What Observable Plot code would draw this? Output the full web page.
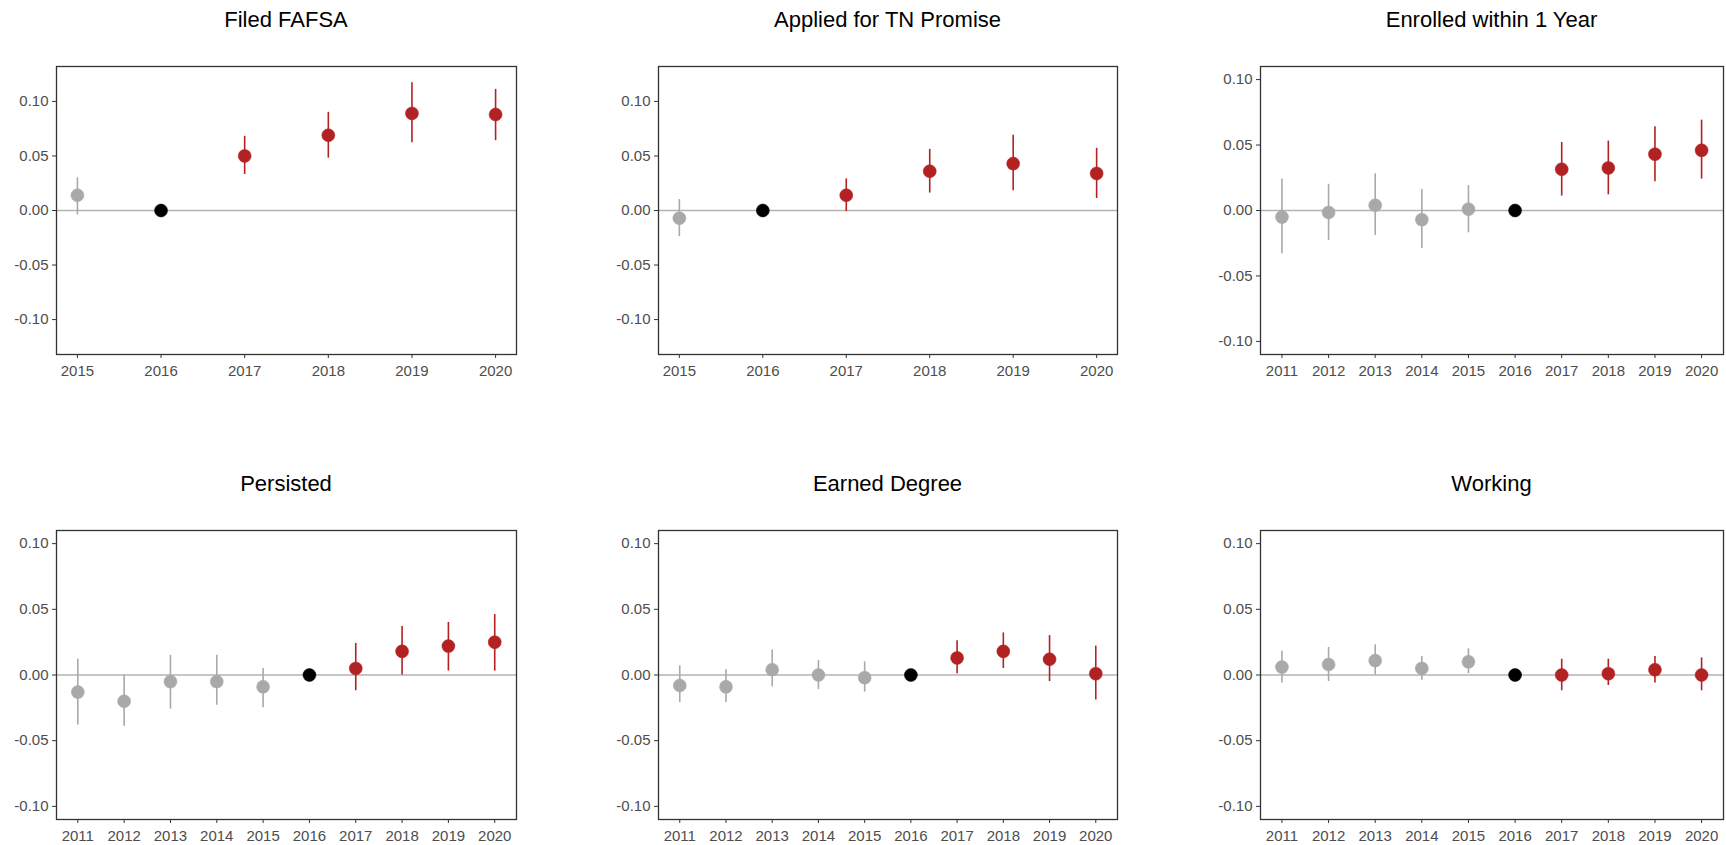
<!DOCTYPE html>
<html>
<head>
<meta charset="utf-8">
<script src="https://cdn.jsdelivr.net/npm/d3@7"></script>
<script src="https://cdn.jsdelivr.net/npm/@observablehq/plot@0.6"></script>
<style>
  html, body { margin: 0; padding: 0; background: #fff; }
  #root { position: relative; width: 1726px; height: 845px; background: #fff; overflow: hidden; }
  .title { position: absolute; text-align: center; font-family: "Liberation Sans", Arial, sans-serif; font-size: 22px; line-height: 22px; color: #000; white-space: nowrap; }
  .plot { position: absolute; }
</style>
</head>
<body>
<div id="root"></div>
<script>
// ---------------- data ----------------
const titles = ["Filed FAFSA", "Applied for TN Promise", "Enrolled within 1 Year", "Persisted", "Earned Degree", "Working"];
const baseYear = 2016;
const yearsShort = [2015, 2016, 2017, 2018, 2019, 2020];
const yearsLong = [2011, 2012, 2013, 2014, 2015, 2016, 2017, 2018, 2019, 2020];
const yTicks = [-0.10, -0.05, 0, 0.05, 0.10];

const fafsaEst = [0.014, 0, 0.050, 0.069, 0.089, 0.088];
const fafsaLo  = [-0.004, null, 0.033, 0.048, 0.062, 0.064];
const fafsaHi  = [0.030, null, 0.068, 0.090, 0.117, 0.111];

const promiseEst = [-0.007, 0, 0.014, 0.036, 0.043, 0.034];
const promiseLo  = [-0.024, null, -0.001, 0.016, 0.018, 0.011];
const promiseHi  = [0.010, null, 0.029, 0.056, 0.069, 0.057];

const enrolledEst = [-0.005, -0.0015, 0.004, -0.007, 0.001, 0, 0.0315, 0.0325, 0.043, 0.046];
const enrolledLo  = [-0.033, -0.023, -0.019, -0.029, -0.017, null, 0.011, 0.012, 0.022, 0.024];
const enrolledHi  = [0.024, 0.020, 0.028, 0.016, 0.019, null, 0.052, 0.053, 0.064, 0.069];

const persistedEst = [-0.013, -0.020, -0.005, -0.005, -0.009, 0, 0.005, 0.018, 0.022, 0.025];
const persistedLo  = [-0.038, -0.039, -0.026, -0.023, -0.025, null, -0.012, 0.000, 0.003, 0.003];
const persistedHi  = [0.012, 0.000, 0.015, 0.015, 0.005, null, 0.024, 0.037, 0.040, 0.046];

const degreeEst = [-0.008, -0.009, 0.004, 0.000, -0.002, 0, 0.013, 0.018, 0.012, 0.001];
const degreeLo  = [-0.021, -0.021, -0.009, -0.011, -0.013, null, 0.001, 0.005, -0.005, -0.019];
const degreeHi  = [0.007, 0.004, 0.019, 0.011, 0.010, null, 0.026, 0.032, 0.030, 0.022];

const workingEst = [0.006, 0.008, 0.011, 0.005, 0.010, 0, 0.000, 0.001, 0.004, 0.000];
const workingLo  = [-0.006, -0.005, 0.000, -0.004, 0.001, null, -0.012, -0.008, -0.006, -0.012];
const workingHi  = [0.018, 0.021, 0.023, 0.014, 0.020, null, 0.012, 0.012, 0.014, 0.013];

// ---------------- style / layout ----------------
const FONT = '"Liberation Sans", Arial, sans-serif';
const GRAY = "#a9a9a9", RED = "#b22222", BLACK = "#000000";
const mL = 60, mR = 8, mT = 4, mB = 30;

const panels = [
  {title: titles[0], years: yearsShort, est: fafsaEst, lo: fafsaLo, hi: fafsaHi, xDomain: [2014.75, 2020.25], yDomain: [-0.132, 0.132], left: 56, top: 66, w: 460, h: 288, titleTop: 9},
  {title: titles[1], years: yearsShort, est: promiseEst, lo: promiseLo, hi: promiseHi, xDomain: [2014.75, 2020.25], yDomain: [-0.132, 0.132], left: 658, top: 66, w: 459, h: 288, titleTop: 9},
  {title: titles[2], years: yearsLong, est: enrolledEst, lo: enrolledLo, hi: enrolledHi, xDomain: [2010.54, 2020.47], yDomain: [-0.11, 0.11], left: 1260, top: 66, w: 463, h: 288, titleTop: 9},
  {title: titles[3], years: yearsLong, est: persistedEst, lo: persistedLo, hi: persistedHi, xDomain: [2010.54, 2020.47], yDomain: [-0.11, 0.11], left: 56, top: 530, w: 460, h: 289, titleTop: 473},
  {title: titles[4], years: yearsLong, est: degreeEst, lo: degreeLo, hi: degreeHi, xDomain: [2010.54, 2020.47], yDomain: [-0.11, 0.11], left: 658, top: 530, w: 459, h: 289, titleTop: 473},
  {title: titles[5], years: yearsLong, est: workingEst, lo: workingLo, hi: workingHi, xDomain: [2010.54, 2020.47], yDomain: [-0.11, 0.11], left: 1260, top: 530, w: 463, h: 289, titleTop: 473}
];

const root = document.getElementById("root");

function groupMarks(data, color) {
  const bars = data.filter(d => d.lo != null && d.hi != null);
  return [
    Plot.ruleX(bars, {x: "year", y1: "lo", y2: "hi", stroke: color, strokeWidth: 1.6}),
    Plot.dot(data, {x: "year", y: "est", r: 6.5, fill: color, stroke: color, strokeWidth: 0.5})
  ];
}

for (const p of panels) {
  const data = p.years.map((year, i) => ({year, est: p.est[i], lo: p.lo[i], hi: p.hi[i]}));
  const pre = data.filter(d => d.year < baseYear);
  const base = data.filter(d => d.year === baseYear);
  const post = data.filter(d => d.year > baseYear);

  const chart = Plot.plot({
    width: p.w + mL + mR,
    height: p.h + mT + mB,
    marginLeft: mL, marginRight: mR, marginTop: mT, marginBottom: mB,
    style: {fontFamily: FONT, fontSize: "15px", background: "white", overflow: "visible"},
    x: {domain: p.xDomain, label: null},
    y: {domain: p.yDomain, label: null},
    marks: [
      Plot.ruleY([0], {stroke: "#b3b3b3", strokeWidth: 1.3}),
      ...groupMarks(pre, GRAY),
      ...groupMarks(post, RED),
      ...groupMarks(base, BLACK),
      Plot.frame({stroke: "#333333", strokeWidth: 1.3}),
      Plot.axisX({ticks: p.years, tickFormat: d => String(d), tickSize: 4, tickPadding: 7, stroke: "#333333", fill: "#4d4d4d", label: null}),
      Plot.axisY({ticks: yTicks, tickFormat: d => d.toFixed(2), tickSize: 4, tickPadding: 4, stroke: "#333333", fill: "#4d4d4d", label: null})
    ]
  });
  chart.classList.add("plot");
  chart.style.left = (p.left - mL) + "px";
  chart.style.top = (p.top - mT) + "px";
  root.appendChild(chart);

  const t = document.createElement("div");
  t.className = "title";
  t.textContent = p.title;
  t.style.left = p.left + "px";
  t.style.width = p.w + "px";
  t.style.top = p.titleTop + "px";
  root.appendChild(t);
}
</script>
</body>
</html>
